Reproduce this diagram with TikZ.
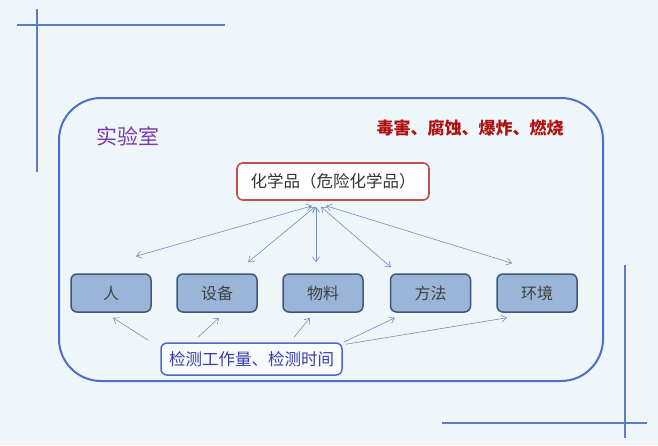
\documentclass[tikz,border=0pt]{standalone}
\usepackage{fontspec}
\newfontfamily\cjk{Noto Sans CJK SC}
\usetikzlibrary{arrows.meta}
\definecolor{bgc}{HTML}{EEF6FA}
\definecolor{deco}{HTML}{5B7FC0}
\definecolor{framec}{HTML}{4F6FC4}
\definecolor{boxfill}{HTML}{9BB5D8}
\definecolor{boxdraw}{HTML}{3F5778}
\definecolor{chemred}{HTML}{C0504D}
\definecolor{botblue}{HTML}{4A6BC8}
\definecolor{bottext}{HTML}{3A3AAE}
\definecolor{arrowc}{HTML}{6F8FC2}
\definecolor{titlepurple}{HTML}{7A3AA8}
\definecolor{redtext}{HTML}{B01010}
\definecolor{boxtext}{HTML}{404040}
\tikzset{
  decoline/.style={draw=deco, line width=1.5pt},
  frameline/.style={draw=framec, line width=2pt, rounded corners=42pt},
  factor/.style={draw=boxdraw, fill=boxfill, line width=1.5pt, rounded corners=6pt,
    minimum width=80pt, minimum height=38pt, inner sep=0pt, text=boxtext,
    font=\cjk\fontsize{16}{16}\selectfont},
  chembox/.style={draw=chemred, fill=white, line width=1.6pt, rounded corners=6pt,
    minimum width=192pt, minimum height=37pt, inner sep=0pt, text=black!80,
    font=\cjk\fontsize{16.5}{16.5}\selectfont},
  botbox/.style={draw=botblue, fill=white!60!bgc, line width=1.5pt, rounded corners=6pt,
    minimum width=181pt, minimum height=32pt, inner sep=0pt, text=bottext,
    font=\cjk\fontsize{16.5}{16.5}\selectfont},
  biarr/.style={draw=arrowc, line width=0.6pt, {Straight Barb[length=5pt,width=7pt]}-{Straight Barb[length=5pt,width=7pt]}},
  onearr/.style={draw=arrowc, line width=0.6pt, -{Straight Barb[length=5pt,width=7pt]}}
}
\begin{document}
\begin{tikzpicture}[x=1pt,y=-1pt]
\fill[bgc] (0,0) rectangle (658,445);
\useasboundingbox (0,0) rectangle (658,445);
% decorative lines
\draw[decoline] (37,9) -- (37,172);
\draw[decoline] (17,25) -- (225,25);
\draw[decoline] (625,265) -- (625,438);
\draw[decoline] (442,423) -- (647,423);
% frame
\draw[frameline] (59,98) rectangle (603,381);
% labels
\node[inner sep=0pt, text=titlepurple, font=\cjk\fontsize{21}{21}\selectfont] (lab) at (128,136) {实验室};
\node[inner sep=0pt, text=redtext, font=\cjk\bfseries\fontsize{17}{17}\selectfont] (haz) at (470,128) {毒害、腐蚀、爆炸、燃烧};
% nodes
\node[chembox] (chem) at (333,181.5) {化学品（危险化学品）};
\node[factor] (ren) at (111,293) {人};
\node[factor] (shebei) at (217,293) {设备};
\node[factor] (wuliao) at (323,293) {物料};
\node[factor] (fangfa) at (430.5,293) {方法};
\node[factor] (huanjing) at (537,293) {环境};
\node[botbox] (bot) at (251.5,359) {检测工作量、检测时间};
% arrows from chemicals
\draw[biarr] ([xshift=-21pt,yshift=-5pt]chem.south) -- ([xshift=25pt,yshift=17pt]ren.north);
\draw[biarr] ([xshift=-18pt,yshift=-6pt]chem.south) -- ([xshift=31pt,yshift=11pt]shebei.north);
\draw[biarr] ([xshift=-17pt,yshift=-6pt]chem.south) -- ([xshift=-7pt,yshift=11pt]wuliao.north);
\draw[biarr] ([xshift=-12pt,yshift=-6pt]chem.south) -- ([xshift=-39.5pt,yshift=6pt]fangfa.north);
\draw[biarr] ([xshift=-7pt,yshift=-5pt]chem.south) -- ([xshift=-25pt,yshift=10pt]huanjing.north);
% arrows from bottom box
\draw[onearr] ([xshift=-12pt,yshift=2pt]bot.north west) -- ([xshift=2pt,yshift=-5pt]ren.south);
\draw[onearr] ([xshift=-53.5pt,yshift=5pt]bot.north) -- ([xshift=2pt,yshift=-5pt]shebei.south);
\draw[onearr] ([xshift=42.5pt,yshift=5pt]bot.north) -- ([xshift=-13pt,yshift=-5pt]wuliao.south);
\draw[onearr] ([xshift=1pt,yshift=0pt]bot.north east) -- ([xshift=-35.5pt,yshift=-5pt]fangfa.south);
\draw[onearr] ([xshift=3pt,yshift=-2pt]bot.north east) -- ([xshift=-30pt,yshift=-5pt]huanjing.south);
\end{tikzpicture}
\end{document}
